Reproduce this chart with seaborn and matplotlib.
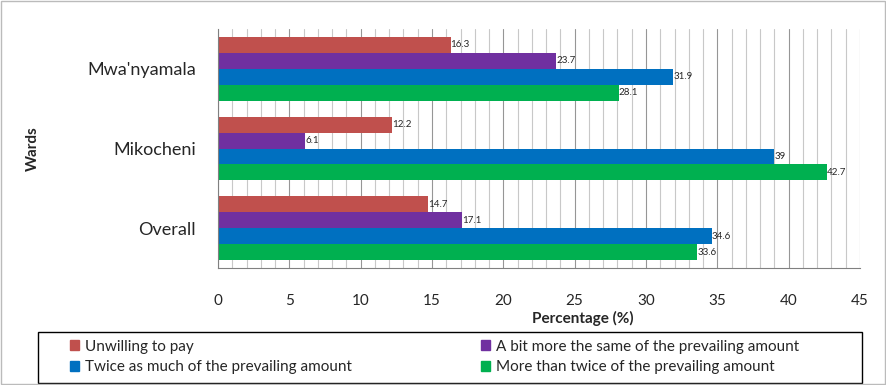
import seaborn as sns
import numpy as np
import pandas as pd
import matplotlib.pyplot as plt
from matplotlib.ticker import MultipleLocator

# Values
wards = ["Mwa'nyamala", "Mikocheni", "Overall"]
responses = ["Unwilling to pay",
             "A bit more the same of the prevailing amount",
             "Twice as much of the prevailing amount",
             "More than twice of the prevailing amount"]
unwilling = [16.3, 12.2, 14.7]
bit_more = [23.7, 6.1, 17.1]
twice = [31.9, 39, 34.6]
more_than_twice = [28.1, 42.7, 33.6]
colors = ["#C0504D", "#7030A0", "#0070C0", "#00B050"]

df = pd.DataFrame({
    "Ward": wards * 4,
    "Response": np.repeat(responses, 3),
    "Percentage": unwilling + bit_more + twice + more_than_twice,
})

sns.set_style("white")
plt.rcParams['font.family'] = ['Lato', 'DejaVu Sans']

fig = plt.figure(figsize=(8.86, 3.85), dpi=100)
ax = fig.add_axes([218 / 886, 1 - 268 / 385, 642 / 886, 239 / 385])

sns.barplot(data=df, y="Ward", x="Percentage", hue="Response", order=wards,
            hue_order=responses, palette=colors, orient="h", width=0.8,
            saturation=1, edgecolor="none", ax=ax, legend=False)

# value labels at bar ends
for container in ax.containers:
    ax.bar_label(container, fmt="%g", fontsize=7, padding=0)

ax.set_xlim(0, 45)
ax.set_ylim(2.5, -0.5)
ax.xaxis.set_major_locator(MultipleLocator(5))
ax.xaxis.set_minor_locator(MultipleLocator(1))
ax.grid(axis="x", which="minor", color="#C8C8C8", linewidth=0.8)
ax.grid(axis="x", which="major", color="#969696", linewidth=0.8)
ax.set_axisbelow(True)
ax.set_yticks([0, 1, 2])
ax.set_yticklabels(wards, fontsize=13)
ax.set_yticks([-0.5, 0.5, 1.5, 2.5], minor=True)
ax.tick_params(axis="y", which="major", length=0, pad=16)
ax.tick_params(axis="y", which="minor", length=5, direction="out", color="#808080")
ax.tick_params(axis="x", which="major", length=5, labelsize=11, color="#808080", pad=14)
ax.tick_params(axis="x", which="minor", length=0)
for side in ["top", "right"]:
    ax.spines[side].set_visible(False)
for side in ["left", "bottom"]:
    ax.spines[side].set_color("#808080")
ax.set_xlabel("Percentage (%)", fontsize=11, fontweight="bold", va="center")
ax.xaxis.set_label_coords((583 - 218) / 642, (268 - 318) / 239)
ax.set_ylabel("Wards", fontsize=11, fontweight="bold", va="center")
ax.yaxis.set_label_coords((33 - 218) / 642, 0.5)

# legend: row-wise order, box drawn separately
handles = [plt.Rectangle((0, 0), 1, 1, color=c) for c in colors]
order = [0, 2, 1, 3]
fig.patches.append(plt.Rectangle((38 / 886, 2 / 385), 824 / 886, 51 / 385, transform=fig.transFigure,
                                 fill=False, edgecolor="black", linewidth=1))
fig.legend([handles[i] for i in order], [responses[i] for i in order], loc="center",
           bbox_to_anchor=(70 / 886, 7 / 385, 729 / 886, 42 / 385), mode="expand", ncol=2,
           fontsize=11, frameon=False, handlelength=0.6, handleheight=0.6, handletextpad=0.4,
           borderpad=0, borderaxespad=0, labelspacing=0.45, columnspacing=2)

fig.patches.append(plt.Rectangle((0.001, 0.002), 0.998, 0.996, transform=fig.transFigure,
                                 fill=False, edgecolor="#BBBBBB", linewidth=1))
fig.savefig("out.png", dpi=100)
